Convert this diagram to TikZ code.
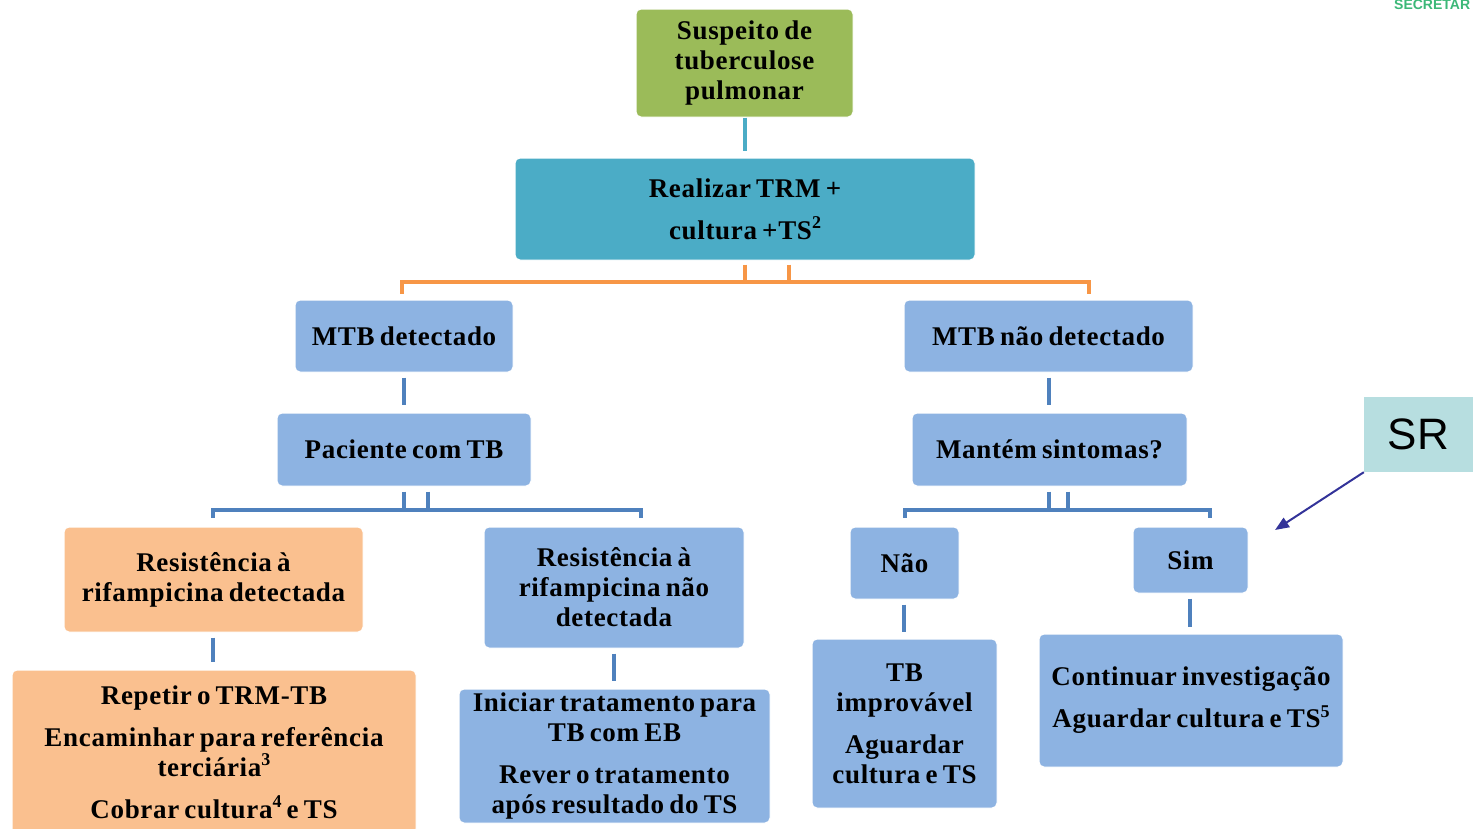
\documentclass[tikz,border=0pt]{standalone}
\usepackage{fontspec}
\setmainfont{Liberation Serif}
\newfontfamily\arialf{Liberation Sans}
\newfontfamily\boxf[LetterSpace=2.5,WordSpace=0.7]{Liberation Serif}
\usetikzlibrary{arrows.meta}
\definecolor{cgreen}{HTML}{9BBB59}
\definecolor{cteal}{HTML}{4BACC6}
\definecolor{cblue}{HTML}{8DB3E2}
\definecolor{corange}{HTML}{FAC08F}
\definecolor{lorange}{HTML}{F79646}
\definecolor{lblue}{HTML}{4F81BD}
\definecolor{csr}{HTML}{B7DEE0}
\definecolor{carrow}{HTML}{333399}
\definecolor{clogo}{HTML}{3CB878}
\newcommand{\sx}[1]{\raisebox{0.4em}{\fontsize{18}{18}\selectfont #1}}
\tikzset{
  box/.style={draw=white, line width=1pt, rounded corners=5pt, align=center, inner sep=2pt,
    font=\boxf\fontsize{27}{30}\selectfont\bfseries, text=black},
  oc/.style={draw=lorange, line width=4pt},
  bc/.style={draw=lblue, line width=4pt},
  tc/.style={draw=cteal, line width=4pt},
}
\begin{document}
\begin{tikzpicture}[x=1pt,y=-1pt]
\useasboundingbox (0,0) rectangle (1473,828);
\clip (0,0) rectangle (1473,828);
% logo fragment
\node[anchor=west, inner sep=0pt, text=clogo, font=\arialf\bfseries\fontsize{14}{14}\selectfont] (logo) at (1394,5) {SECRETAR};
% boxes
\node[box, fill=cgreen, minimum width=217, minimum height=108] (susp) at (744.5,63) {Suspeito de\\tuberculose\\pulmonar};
\node[box, fill=cteal, minimum width=460, minimum height=102] (real) at (745,209) {Realizar TRM +\\[12pt]cultura +TS\sx{2}};
\node[box, fill=cblue, minimum width=218, minimum height=72] (mtb) at (404,336) {MTB detectado};
\node[box, fill=cblue, minimum width=289, minimum height=72] (mtbn) at (1048.5,336) {MTB não detectado};
\node[box, fill=cblue, minimum width=254, minimum height=73] (pac) at (404,449.5) {Paciente com TB};
\node[box, fill=cblue, minimum width=275, minimum height=73] (mant) at (1049.5,449.5) {Mantém sintomas?};
\node[box, fill=corange, minimum width=299, minimum height=105] (rd) at (213.5,579.5) {Resistência à\\rifampicina detectada};
\node[box, fill=cblue, minimum width=260, minimum height=121] (rnd) at (614,587.5) {Resistência à\\rifampicina não\\detectada};
\node[box, fill=cblue, minimum width=109, minimum height=72] (nao) at (904.5,563) {Não};
\node[box, fill=cblue, minimum width=115, minimum height=66] (sim) at (1190.5,560) {Sim};
\node[box, fill=corange, minimum width=404, minimum height=164] (rep) at (214,752) {Repetir o TRM-TB\\[12pt]Encaminhar para referência\\terciária\sx{3}\\[12pt]Cobrar cultura\sx{4} e TS};
\node[box, fill=cblue, minimum width=311, minimum height=134] (ini) at (614.5,756) {Iniciar tratamento para\\TB com EB\\[12pt]Rever o tratamento\\após resultado do TS};
\node[box, fill=cblue, minimum width=185, minimum height=169] (tbi) at (904.5,723.5) {TB\\improvável\\[12pt]Aguardar\\cultura e TS};
\node[box, fill=cblue, minimum width=304, minimum height=133] (cont) at (1191,700.5) {Continuar investigação\\[12pt]Aguardar cultura e TS\sx{5}};
\node[draw=none, fill=csr, minimum width=109, minimum height=75, inner sep=0pt, font=\arialf\fontsize{44}{44}\selectfont] (sr) at (1418.5,434.5) {SR};
\coordinate (srtip) at (1275,530);
% connectors
\draw[tc] (susp.south) -- ([yshift=-33]susp.south);
\draw[oc] ([yshift=-4]real.south) |- ([yshift=18,xshift=44]mtb.north -| real.south) ;
\draw[oc] ([yshift=-4,xshift=44]real.south) -- ([yshift=-22,xshift=44]real.south);
\draw[oc, line cap=rect] ([yshift=8,xshift=-2]mtb.north) -- ([yshift=18,xshift=-2]mtb.north) -- ([yshift=18,xshift=40.5]mtbn.north) -- ([yshift=8,xshift=40.5]mtbn.north);
\draw[bc] ([yshift=-5]mtb.south) -- ([yshift=8]pac.north);
\draw[bc] ([yshift=-5,xshift=0.5]mtbn.south) -- ([yshift=8,xshift=-0.5]mant.north);
% left blue bracket
\draw[bc] ([yshift=-5]pac.south) -- ([yshift=-24]pac.south);
\draw[bc] ([yshift=-5,xshift=24]pac.south) -- ([yshift=-24,xshift=24]pac.south);
\draw[bc] ([yshift=9,xshift=-0.5]rd.north) -- ([yshift=17,xshift=-0.5]rd.north) -- ([yshift=17,xshift=27]rnd.north) -- ([yshift=9,xshift=27]rnd.north);
% right blue bracket
\draw[bc] ([yshift=-5,xshift=-0.5]mant.south) -- ([yshift=-24,xshift=-0.5]mant.south);
\draw[bc] ([yshift=-5,xshift=18.5]mant.south) -- ([yshift=-24,xshift=18.5]mant.south);
\draw[bc] ([yshift=9,xshift=0.5]nao.north) -- ([yshift=17,xshift=0.5]nao.north) -- ([yshift=17,xshift=19.5]sim.north) -- ([yshift=9,xshift=19.5]sim.north);
% lower verticals
\draw[bc] ([yshift=-5,xshift=-0.5]rd.south) -- ([yshift=8,xshift=-1]rep.north);
\draw[bc] ([yshift=-5]rnd.south) -- ([yshift=8,xshift=-0.5]ini.north);
\draw[bc] ([yshift=-5,xshift=-0.5]nao.south) -- ([yshift=7,xshift=-0.5]tbi.north);
\draw[bc] ([yshift=-5,xshift=-0.5]sim.south) -- ([yshift=7,xshift=-1]cont.north);
% SR arrow
\draw[carrow, line width=2pt, -{Triangle[length=14pt,width=11pt]}] (sr.south west) -- (srtip);
\end{tikzpicture}
\end{document}
